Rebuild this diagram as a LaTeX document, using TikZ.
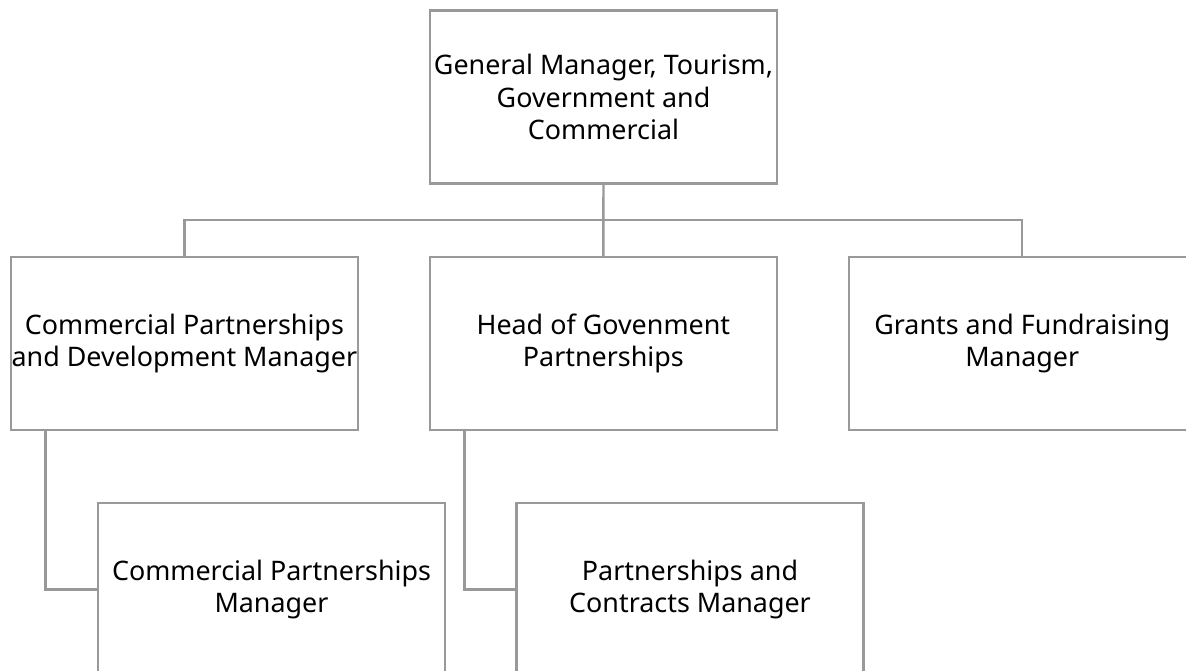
\documentclass[tikz,border=0pt]{standalone}
\usepackage{fontspec}
\setmainfont{Noto Sans}
\usetikzlibrary{positioning}

\tikzset{
  post/.style={draw=black!40,line width=1.4pt,minimum width=6.94cm,minimum height=3.46cm,
    align=center,inner sep=0pt,font=\fontsize{15.3}{18.7}\selectfont},
  link/.style={draw=black!40,line width=1.4pt}
}

\begin{document}
\begin{tikzpicture}[x=0.02cm,y=-0.02cm]
\useasboundingbox (0,0) rectangle (1186,671);

\node[post] (GM) at (603.5,97) {General Manager, Tourism,\\Government and\\Commercial};

\foreach \t [count=\n] in
  {{Commercial Partnerships\\and Development Manager},
   {Head of Govenment\\Partnerships},
   {Grants and Fundraising\\Manager}}
  \node[post,xshift=\n*8.38cm] (R\n) at (-234.5,343.5) {\t};

\node[post] (CPM) at (271.5,589.5) {Commercial Partnerships\\Manager};
\node[post] (PCM) at (690,589.5) {Partnerships and\\Contracts Manager};

\coordinate (bus) at (603.5,220);
\path[link] (GM.south) -- (R2.north);
\path[link] (R1.north) |- (bus) -| (R3.north);

\path[link] ([xshift=0.72cm]R1.south west) |- (CPM.west);
\path[link] ([xshift=0.72cm]R2.south west) |- (PCM.west);
\end{tikzpicture}
\end{document}
